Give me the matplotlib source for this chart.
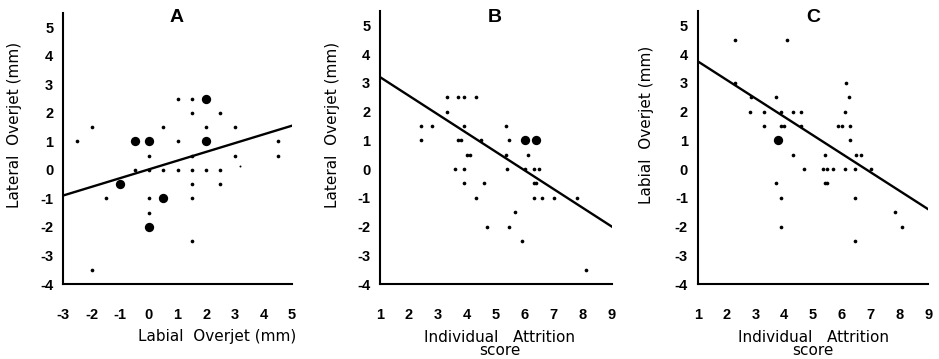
#!/usr/bin/env python3
"""Overjet vs labial overjet / attrition score, three scatter panels"""

import matplotlib
matplotlib.use('Agg')
import matplotlib.pyplot as plt

# Panel A: labial overjet (x) vs lateral overjet (y)
a_small_x = [-2.5, -2, -0.5, 0, 0.5, 1, 1.5, 2, 2.5, 0.5, 1, 1, 1.5, 1.5, 2.5, 2, 3, 1.5, 3, 4.5, 4.5,
             0, 1.5, 2.5, -1.5, 0, 1.5, 0, 1.5, -2]
a_small_y = [1, 1.5, 0, 0, 0, 0, 0, 0, 0, 1.5, 1, 2.5, 2.5, 2, 2, 1.5, 1.5, 0.5, 0.5, 1, 0.5,
             0.5, -0.5, -0.5, -1, -1, -1, -1.5, -2.5, -3.5]
a_big_x = [-0.5, 0, 2, 2, -1, 0.5, 0]
a_big_y = [1, 1, 2.5, 1, -0.5, -1, -2]
a_tiny_x = [3.2]
a_tiny_y = [0.15]
a_fit_x = [-3, 5]
a_fit_y = [-0.9, 1.55]

# Panel B: attrition score (x) vs lateral overjet (y)
b_small_x = [2.4, 2.8, 2.4, 3.3, 3.3, 3.7, 3.9, 4.3, 3.9, 3.7, 3.8, 4.0, 4.1, 4.5, 3.6, 3.9,
             5.35, 5.45, 5.35, 5.4, 6.1, 6.0, 6.3, 6.5,
             3.9, 4.6, 6.3, 6.4, 4.3, 6.3, 6.6, 7.0, 7.8, 5.65, 4.7, 5.45, 5.9, 8.1]
b_small_y = [1.5, 1.5, 1, 2.5, 2, 2.5, 2.5, 2.5, 1.5, 1, 1, 0.5, 0.5, 1, 0, 0,
             1.5, 1, 0.5, 0, 0.5, 0, 0, 0,
             -0.5, -0.5, -0.5, -0.5, -1, -1, -1, -1, -1, -1.5, -2, -2, -2.5, -3.5]
b_big_x = [6.0, 6.4]
b_big_y = [1, 1]
b_fit_x = [1, 9]
b_fit_y = [3.2, -2.0]

# Panel C: attrition score (x) vs labial overjet (y)
c_small_x = [2.3, 4.1, 2.3, 6.15, 2.85, 3.7, 6.25, 2.8, 3.3, 3.9, 4.3, 4.6, 6.1,
             3.3, 3.9, 4.0, 4.6, 5.85, 6.0, 6.3, 6.3, 4.3, 5.4, 6.5, 6.65,
             4.7, 5.35, 5.5, 5.7, 6.1, 6.45, 7.0,
             3.7, 5.4, 5.5, 3.9, 6.45, 7.85, 3.9, 8.1, 6.45]
c_small_y = [4.5, 4.5, 3, 3, 2.5, 2.5, 2.5, 2, 2, 2, 2, 2, 2,
             1.5, 1.5, 1.5, 1.5, 1.5, 1.5, 1.5, 1, 0.5, 0.5, 0.5, 0.5,
             0, 0, 0, 0, 0, 0, 0,
             -0.5, -0.5, -0.5, -1, -1, -1.5, -2, -2, -2.5]
c_big_x = [3.8]
c_big_y = [1]
c_fit_x = [1, 9]
c_fit_y = [3.75, -1.4]

fig = plt.figure(figsize=(9.39, 3.59), dpi=100)

tick_font = dict(family='Liberation Sans', weight='bold', size=10.5)


def setup(ax, xlo, xhi, xticks, title, title_x):
    ax.set_xlim(xlo, xhi)
    ax.set_ylim(-4, 5.5)
    for s in ['top', 'right']:
        ax.spines[s].set_visible(False)
    for s in ['left', 'bottom']:
        ax.spines[s].set_linewidth(1.5)
    ax.set_xticks(xticks)
    ax.set_yticks(range(-4, 6))
    ax.set_xticklabels([str(t) for t in xticks], fontdict=tick_font)
    ax.set_yticklabels([str(t) for t in range(-4, 6)], fontdict=tick_font)
    ax.tick_params(axis='x', length=0, pad=17)
    ax.tick_params(axis='y', length=0, pad=7)
    fig.text(title_x, 1 - 18 / 359, title, ha='center', va='center',
             family='Liberation Sans', weight='bold', size=14)


def pts(ax, sx, sy, bx, by):
    ax.scatter(sx, sy, s=7, color='black', linewidths=0, clip_on=False)
    ax.scatter(bx, by, s=45, color='black', linewidths=0, clip_on=False)


# Panel A
axA = fig.add_axes([63 / 939, 1 - 284 / 359, 229 / 939, 271 / 359])
setup(axA, -3, 5, list(range(-3, 6)), 'A', 177 / 939)
pts(axA, a_small_x, a_small_y, a_big_x, a_big_y)
axA.scatter(a_tiny_x, a_tiny_y, s=2, color='black', linewidths=0)
axA.plot(a_fit_x, a_fit_y, color='black', lw=1.7)

# Panel B
axB = fig.add_axes([380 / 939, 1 - 284 / 359, 231.7 / 939, 273 / 359])
setup(axB, 1, 9, list(range(1, 10)), 'B', 495 / 939)
pts(axB, b_small_x, b_small_y, b_big_x, b_big_y)
axB.plot(b_fit_x, b_fit_y, color='black', lw=1.7)

# Panel C
axC = fig.add_axes([697.7 / 939, 1 - 284 / 359, 230.6 / 939, 273 / 359])
setup(axC, 1, 9, list(range(1, 10)), 'C', 813 / 939)
pts(axC, c_small_x, c_small_y, c_big_x, c_big_y)
axC.plot(c_fit_x, c_fit_y, color='black', lw=1.7)

# Axis labels
lab = dict(family='DejaVu Sans', size=11, color='black')
fig.text(217 / 939, 1 - 337 / 359, 'Labial  Overjet (mm)', ha='center', va='center', **lab)
fig.text(500 / 939, 1 - 344 / 359, 'Individual   Attrition\nscore', ha='center', va='center',
         linespacing=0.85, **lab)
fig.text(813 / 939, 1 - 344 / 359, 'Individual   Attrition\nscore', ha='center', va='center',
         linespacing=0.85, **lab)

fig.text(15 / 939, 1 - 125 / 359, 'Lateral  Overjet (mm)', rotation=90, ha='center', va='center', **lab)
fig.text(332 / 939, 1 - 125 / 359, 'Lateral  Overjet (mm)', rotation=90, ha='center', va='center', **lab)
fig.text(647 / 939, 1 - 125 / 359, 'Labial  Overjet (mm)', rotation=90, ha='center', va='center', **lab)

fig.savefig('out.png', dpi=100, facecolor='white')
